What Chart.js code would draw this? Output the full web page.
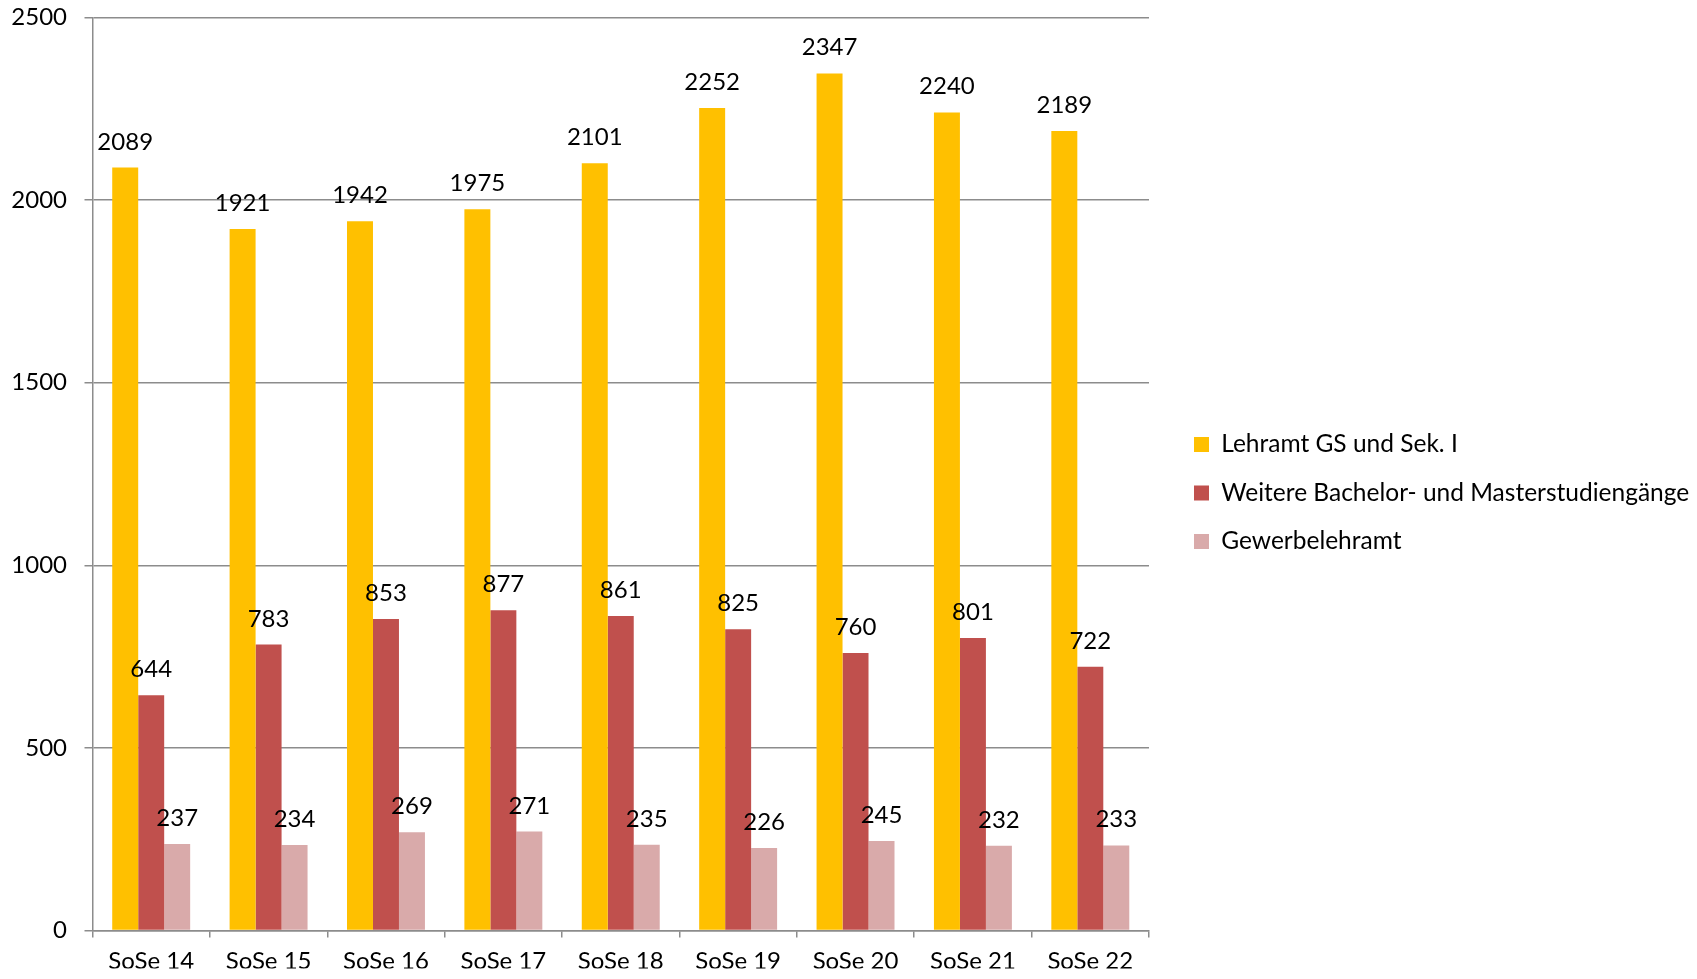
<!DOCTYPE html>
<html>
<head>
<meta charset="utf-8">
<script src="https://cdn.jsdelivr.net/npm/chart.js@4"></script>
<style>
html,body{margin:0;padding:0;background:#fff;overflow:hidden;}
#wrap{position:relative;width:1697px;height:979px;overflow:hidden;}
canvas{display:block;}
</style>
</head>
<body>
<div id="wrap"><canvas id="c" width="1697" height="979"></canvas></div>
<script>
const categories = ["SoSe 14","SoSe 15","SoSe 16","SoSe 17","SoSe 18","SoSe 19","SoSe 20","SoSe 21","SoSe 22"];
const seriesNames = ["Lehramt GS und Sek. I","Weitere Bachelor- und Masterstudiengänge","Gewerbelehramt"];
const lehramt = [2089,1921,1942,1975,2101,2252,2347,2240,2189];
const weitere = [644,783,853,877,861,825,760,801,722];
const gewerbe = [237,234,269,271,235,226,245,232,233];
const yTicks = [0,500,1000,1500,2000,2500];
const colors = ["#FFC000","#C0504D","#D9AAAA"];

const FONT = "Lato";
const FS = 24;
const GRID = "#8c8c8c";

const labelPlugin = {
  id: 'valueLabels',
  afterInit(chart) {
    const lg = chart.legend;
    if (lg && !lg._patched) {
      const orig = lg.fit.bind(lg);
      lg.fit = function () {
        this.maxWidth = 900;
        orig();
        this.width = 524;
      };
      lg._patched = true;
    }
  },
  afterDatasetsDraw(chart) {
    const ctx = chart.ctx;
    ctx.save();
    ctx.font = FS + "px " + FONT;
    ctx.fillStyle = "#000";
    ctx.textAlign = "center";
    ctx.textBaseline = "alphabetic";
    chart.data.datasets.forEach((ds, i) => {
      const meta = chart.getDatasetMeta(i);
      meta.data.forEach((bar, j) => {
        ctx.fillText(String(ds.data[j]), bar.x, bar.y - 18);
      });
    });
    ctx.restore();
  }
};

new Chart(document.getElementById('c'), {
  type: 'bar',
  data: {
    labels: categories,
    datasets: [
      {label: seriesNames[0], data: lehramt, backgroundColor: colors[0]},
      {label: seriesNames[1], data: weitere, backgroundColor: colors[1]},
      {label: seriesNames[2], data: gewerbe, backgroundColor: colors[2]}
    ]
  },
  options: {
    responsive: false,
    animation: false,
    devicePixelRatio: 1,
    layout: {padding: {left: 0, top: 17.5, right: 3, bottom: 10.5}},
    datasets: {bar: {categoryPercentage: 0.664, barPercentage: 1.0}},
    plugins: {
      legend: {
        position: 'right',
        align: 'center',
        labels: {
          boxWidth: 15, boxHeight: 15, padding: 24,
          color: '#000',
          font: {family: FONT, size: 24.5}
        }
      },
      tooltip: {enabled: false}
    },
    scales: {
      x: {
        grid: {display: true, drawOnChartArea: false, drawTicks: true, tickLength: 7, color: GRID, lineWidth: 1.5, offset: true},
        border: {display: true, color: GRID, width: 1.5},
        ticks: {color: '#000', font: {family: FONT, size: FS}, padding: 9},
        afterFit(scale) { scale.height = 38; }
      },
      y: {
        min: 0, max: 2500,
        afterBuildTicks(scale) { scale.ticks = yTicks.map(v => ({value: v})); },
        grid: {color: GRID, lineWidth: 1.5, tickLength: 8, drawTicks: true},
        border: {display: true, color: GRID, width: 1.5},
        ticks: {color: '#000', font: {family: FONT, size: FS}, padding: 17.5, callback: v => String(v)},
        afterFit(scale) { scale.width = 92.5; scale.paddingTop = 0; scale.paddingBottom = 0; }
      },
      spacer: {
        type: 'linear', position: 'right', display: true,
        grid: {display: false}, border: {display: false},
        ticks: {display: false},
        afterFit(scale) { scale.width = 21; scale.paddingTop = 0; scale.paddingBottom = 0; }
      }
    }
  },
  plugins: [labelPlugin]
});
</script>
</body>
</html>
